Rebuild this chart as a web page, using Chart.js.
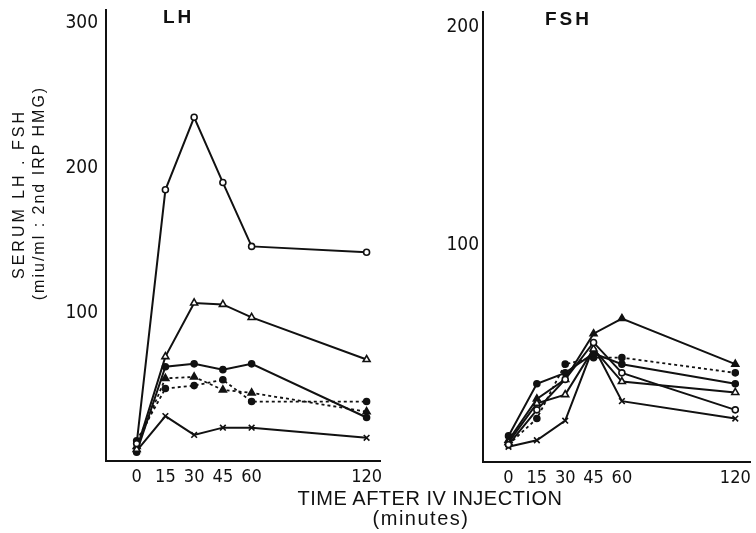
<!DOCTYPE html>
<html>
<head>
<meta charset="utf-8">
<script src="https://cdn.jsdelivr.net/npm/chart.js@4"></script>
<style>
	body { margin: 0; background: #fff; width: 756px; height: 533px; position: relative; overflow: hidden; }
	.box { position: absolute; top: 0; }
	.txt { position: absolute; color: #111; font-family: "Liberation Sans", Arial, sans-serif; white-space: nowrap; }
	.ytitle { transform: translate(-50%, -50%) rotate(-90deg); font-size: 16px; }
</style>
</head>
<body>
<div class="box" style="left:0"><canvas id="lhChart" width="390" height="490"></canvas></div>
<div class="box" style="left:390px"><canvas id="fshChart" width="366" height="490"></canvas></div>

<div class="txt" style="left:163px; top:6px; font-size:19px; font-weight:bold; letter-spacing:3px">LH</div>
<div class="txt" style="left:545px; top:8px; font-size:19px; font-weight:bold; letter-spacing:3px">FSH</div>
<div class="txt ytitle" style="left:19px; top:194px; letter-spacing:3px">SERUM LH . FSH</div>
<div class="txt ytitle" style="left:39px; top:193px; letter-spacing:2px">(miu/ml : 2nd IRP HMG)</div>
<div class="txt" style="left:430px; top:498px; transform:translate(-50%,-50%); font-size:20px; letter-spacing:0.5px">TIME AFTER IV INJECTION</div>
<div class="txt" style="left:421px; top:518px; transform:translate(-50%,-50%); font-size:20px; letter-spacing:1.5px">(minutes)</div>

<script>
// sampling times (minutes after IV injection)
const times = [0, 15, 30, 45, 60, 120];
const xTicks = [0, 15, 30, 45, 60, 120];
const lhTicks = [100, 200, 300];
const fshTicks = [100, 200];

// LH (miu/ml)
const lhOpenCircle = [10, 185, 235, 190, 146, 142];
const lhOpenTriangle = [6, 70, 107, 106, 97, 68];
const lhFilledCircle = [4, 63, 65, 61, 65, 28];
const lhDotTriangle = [8, 55, 56, 47, 45, 32];
const lhDotCircle = [12, 48, 50, 54, 39, 39];
const lhCross = [5, 29, 16, 21, 21, 14];

// FSH (miu/ml)
const fshOpenCircle = [8, 24, 38, 55, 41, 24];
const fshOpenTriangle = [9, 27, 31, 52, 37, 32];
const fshFilledCircle = [12, 36, 41, 50, 45, 36];
const fshFilledTriangle = [10, 29, 38, 59, 66, 45];
const fshDotCircle = [8, 20, 45, 48, 48, 41];
const fshCross = [7, 10, 19, 53, 28, 20];

const ink = "#111";
const tickFont = "'Liberation Sans Narrow', 'DejaVu Sans Condensed', sans-serif";

function line(values, style, filled, dotted) {
	return {
		data: times.map((t, i) => ({ x: t, y: values[i] })),
		borderColor: ink,
		borderWidth: dotted ? 1.8 : 2,
		borderDash: dotted ? [3, 3] : [],
		pointStyle: style,
		pointRadius: style === "circle" ? 3 : 4,
		pointBorderWidth: 1.6,
		pointBorderColor: ink,
		pointBackgroundColor: filled ? ink : "#fff",
		tension: 0,
	};
}

function panel(id, datasets, opts) {
	return new Chart(document.getElementById(id), {
		type: "line",
		data: { datasets: datasets },
		options: {
			responsive: false,
			animation: false,
			layout: { padding: { top: opts.top, right: opts.right, left: 0, bottom: 0 } },
			plugins: { legend: { display: false }, tooltip: { enabled: false } },
			scales: {
				x: {
					type: "linear",
					min: opts.xMin,
					max: opts.xMax,
					grid: { display: false, drawTicks: false },
					border: { display: true, color: ink, width: 2 },
					afterBuildTicks: (s) => { s.ticks = xTicks.map((v) => ({ value: v })); },
					afterFit: (s) => { s.height = opts.xHeight; s.paddingLeft = 0; s.paddingRight = 0; },
					ticks: { color: ink, padding: 6, autoSkip: false, maxRotation: 0, font: { family: tickFont, size: 18 } },
				},
				y: {
					type: "linear",
					min: opts.yMin,
					max: opts.yMax,
					grid: { display: false, drawTicks: false },
					border: { display: true, color: ink, width: 2 },
					afterBuildTicks: (s) => { s.ticks = opts.yTicks.map((v) => ({ value: v })); },
					afterFit: (s) => { s.width = opts.yWidth; s.paddingTop = 0; s.paddingBottom = 0; },
					ticks: { color: ink, padding: opts.yPad, font: { family: tickFont, size: 19 } },
				},
			},
		},
	});
}

panel("lhChart", [
	line(lhOpenCircle, "circle", false, false),
	line(lhOpenTriangle, "triangle", false, false),
	line(lhFilledCircle, "circle", true, false),
	line(lhDotTriangle, "triangle", true, true),
	line(lhDotCircle, "circle", true, true),
	line(lhCross, "crossRot", false, false),
], { top: 10, right: 10, xMin: -16, xMax: 127, yMin: -2, yMax: 309, yTicks: lhTicks, xHeight: 29, yWidth: 106, yPad: 8 });

panel("fshChart", [
	line(fshOpenCircle, "circle", false, false),
	line(fshOpenTriangle, "triangle", false, false),
	line(fshFilledCircle, "circle", true, false),
	line(fshFilledTriangle, "triangle", true, false),
	line(fshDotCircle, "circle", true, true),
	line(fshCross, "crossRot", false, false),
], { top: 12, right: 0, xMin: -13.5, xMax: 128, yMin: 0, yMax: 207, yTicks: fshTicks, xHeight: 28, yWidth: 93, yPad: 4 });
</script>
</body>
</html>
